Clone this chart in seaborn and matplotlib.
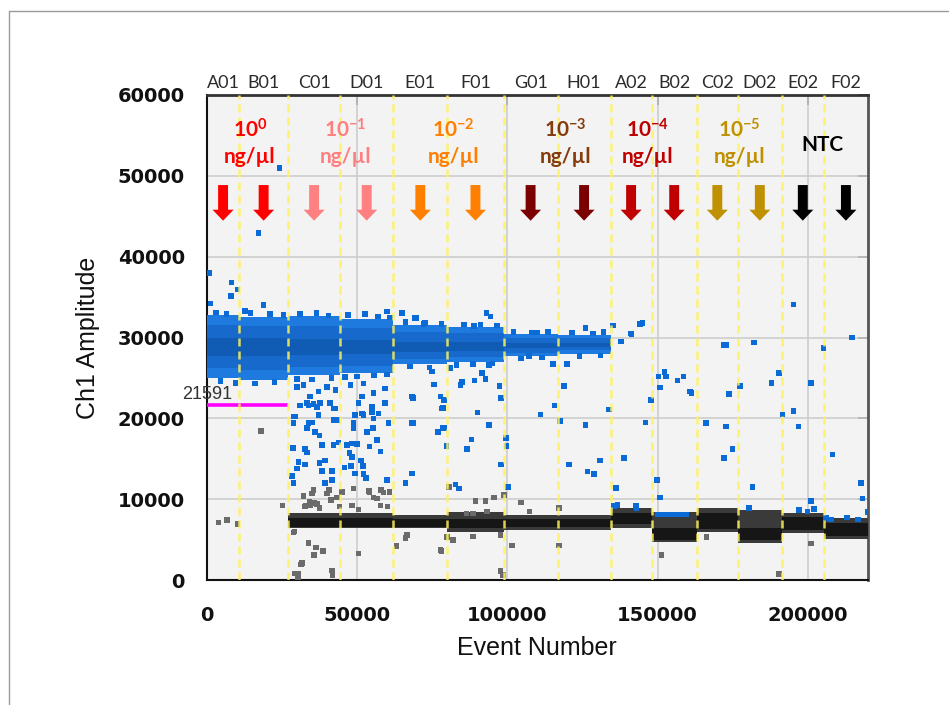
import numpy as np
import pandas as pd
import matplotlib
matplotlib.use("Agg")
import matplotlib.pyplot as plt
import matplotlib.transforms as mtransforms
from matplotlib.patches import FancyArrow
from matplotlib.lines import Line2D
import seaborn as sns

# ---- wells and their event ranges -------------------------------------------
wells = ["A01", "B01", "C01", "D01", "E01", "F01", "G01", "H01",
         "A02", "B02", "C02", "D02", "E02", "F02"]
well_edges = [0, 10700, 27000, 44300, 62000, 80000, 98700, 116700,
              134300, 148000, 163000, 176700, 191300, 205300, 220000]

threshold = 21591
threshold_end = 27000

# positive-droplet cluster (Ch1 amplitude envelope) for wells A01..H01
pos_outer_hi = [32800, 32500, 32600, 32300, 31500, 31300, 30400, 30300]
pos_outer_lo = [25000, 24800, 25300, 25600, 26700, 27000, 27700, 28000]
pos_mid_hi = [31600, 31400, 31400, 31200, 30700, 30600, 30000, 29900]
pos_mid_lo = [26200, 26000, 26300, 26500, 27300, 27600, 28100, 28400]
pos_core_hi = [29900, 29900, 29800, 29700, 29500, 29500, 29300, 29300]
pos_core_lo = [27700, 27700, 27800, 27900, 28200, 28300, 28700, 28800]

# negative-droplet cluster envelope for wells C01..F02
neg_outer_hi = [8300, 8300, 8000, 8400, 8000, 8000, 8900, 8400, 8900, 8650, 8300, 7650]
neg_outer_lo = [6400, 6400, 6400, 6000, 6200, 6200, 6400, 4700, 5900, 4600, 5800, 5100]
neg_core_hi = [7700, 7700, 7600, 7600, 7500, 7500, 8300, 6400, 8300, 6400, 7800, 7000]
neg_core_lo = [6600, 6600, 6600, 6400, 6500, 6500, 6900, 5000, 6300, 5000, 6200, 5400]

# small positive cluster sitting on the B02 negative band
b02_pos_range = [149000, 160500]
b02_pos_amp = [7800, 8400]

# scattered positive droplets
blue_event = [770, 8200, 8000, 10100, 1200, 18800, 12700, 59900, 64900, 69300, 24100, 17100,
              29900, 32100, 34300, 37100, 39900, 42700, 47700, 52100, 55400, 59300, 31000, 33200,
              36600, 42100, 51600, 54900, 59300, 52100, 68200, 68800, 60400, 29300, 33800, 43200,
              48800, 55400, 33800, 35400, 37700, 41000, 42700, 50400, 28800, 28800, 34900, 33200,
              37100, 42100, 49300, 51600, 54900, 57100, 68200, 78200, 78800, 76800, 36000, 37400,
              48800, 53200, 55200, 56600, 57700, 28600, 32700, 33200, 38200, 42100, 43800, 46600,
              48200, 49900, 54100, 47400, 48200, 30400, 29900, 32700, 37400, 39300, 38200, 41600,
              45800, 48000, 51300, 51900, 49300, 52100, 53000, 28200, 28800, 39300, 41600, 59900,
              66000, 68200, 82700, 69700, 93000, 94300, 88800, 72100, 109900, 126000, 131900, 135200,
              137700, 141000, 74900, 81000, 93800, 91600, 92700, 107100, 115200, 119900, 75500, 84300,
              84900, 89100, 97400, 118800, 68600, 77700, 78800, 97900, 78500, 90100, 115700, 111000,
              133800, 117400, 126000, 93800, 78600, 88000, 86600, 79700, 99600, 99700, 97900, 100100,
              83800, 120500, 126600, 128800, 130800, 136200, 150800, 156600, 160800, 161200, 173800,
              177400, 187900, 201000, 147700, 146000, 166000, 172700, 195200, 196800, 191600, 138800,
              149700, 150800, 172100, 174900, 208200, 181600, 201000, 217700, 218200, 219900, 135400,
              136600, 142700, 143000, 197100, 199900, 202100, 180400, 206000, 207700, 213000, 216600,
              195200, 214600, 141300, 144100, 145000, 171900, 172800, 182100, 205200, 150200, 152300,
              152800, 158600, 190400,
              # droplets on the ragged edge of the positive cluster
              3000, 6500, 14500, 21000, 25500, 31000, 36500, 40500, 47000, 52500, 57000, 61000,
              4500, 9500, 16000, 22500, 30000, 35000, 41500, 46000, 50000, 55500, 60000,
              66000, 72500, 78000, 85500, 91000, 96500, 67500, 74000, 83000, 88500, 95000,
              102000, 108000, 113500, 121500, 128500, 104500, 111500, 124000, 131000]
blue_amp = [38000, 36800, 35100, 35950, 34200, 34000, 33300, 33200, 33000, 32400, 51000, 42900,
            23900, 24100, 22700, 23300, 23900, 23500, 24100, 24300, 23100, 23700, 21600, 21900,
            21400, 21200, 22700, 21400, 21900, 20400, 22700, 19400, 19400, 20200, 19400, 19800,
            19400, 20000, 21600, 21800, 21900, 21900, 21200, 21900, 20200, 19400, 19500, 18800,
            20400, 19800, 20400, 20600, 20800, 20600, 19400, 21200, 18800, 18300, 18300, 17900,
            18800, 18300, 18800, 17300, 15900, 16300, 16200, 15800, 16700, 16700, 17000, 16700,
            16900, 16800, 16500, 15700, 15200, 14600, 13800, 14300, 14500, 14800, 13500, 13500,
            13900, 14100, 14800, 14100, 13200, 13100, 12600, 12900, 12000, 12000, 12400, 12400,
            12000, 13200, 11800, 32400, 33000, 32600, 31400, 31700, 30600, 31200, 30700, 31500,
            29500, 30500, 25800, 26200, 26600, 25600, 24900, 27700, 26700, 26700, 24200, 24100,
            24500, 24700, 24000, 24000, 22500, 22700, 22300, 22500, 21300, 20700, 21600, 20500,
            21100, 19700, 19200, 19200, 18800, 17400, 16200, 16600, 17600, 16600, 14300, 11500,
            11300, 14300, 13400, 13100, 14800, 11400, 23800, 24700, 23300, 23100, 23000,
            24000, 24400, 24400, 22300, 19500, 19400, 19000, 20900, 19000, 20500, 15100,
            12400, 10200, 15100, 16200, 15500, 11500, 9800, 12000, 10100, 8400, 9150,
            9300, 9150, 8900, 8650, 8450, 8750, 8900, 7650, 7500, 7750, 7500,
            34100, 30000, 30400, 31700, 31800, 29100, 29100, 29400, 28700, 25200, 25700,
            25200, 25200, 25600,
            33100, 32900, 33000, 32900, 32800, 32900, 33000, 32700, 32800, 32900, 32600, 32500,
            24600, 24400, 24300, 24500, 24900, 24800, 25000, 25100, 25200, 25300, 25400,
            31900, 31800, 31700, 31600, 31600, 31500, 26400, 26300, 26600, 26700, 26800,
            30700, 30600, 30700, 30600, 30500, 27400, 27500, 27700, 27800]

# scattered negative / intermediate droplets
gray_event = [17900, 3800, 6600, 10100, 25200, 32100, 34900, 35700, 36600, 32700, 34300, 39900,
              40400, 43200, 44100, 48400, 48800, 54000, 29100, 33800, 36300, 38600, 35700, 31600,
              29300, 30400, 41600, 50400, 35400, 34100, 33000, 37400, 41200, 40800, 44900, 48200,
              50400, 54100, 55400, 56600, 57900, 58800, 60800, 60100, 57700, 28800, 66600, 66000,
              63000, 77700, 81900, 80500, 89300, 92700, 95500, 98800, 104600, 86300, 88600, 93200,
              107400, 117100, 79900, 81900, 88600, 97700, 101600, 117100, 78000, 97700, 166300,
              151200, 201000, 190400, 31300, 30200, 41800, 98600]
gray_amp = [18400, 7100, 7400, 6900, 9200, 10400, 10700, 9500, 9400, 9100, 9200, 10700,
            11200, 10200, 9100, 9200, 11300, 11000, 6000, 4600, 4000, 3600, 3100, 2100,
            830, 830, 1150, 3300, 11100, 9700, 9200, 8900, 9900, 11100, 10900, 9200,
            8700, 10900, 10200, 10100, 11100, 10800, 10900, 9100, 9200, 5900, 5600, 5200,
            4200, 3700, 5000, 11500, 9800, 9800, 10200, 10500, 9600, 8250, 8250, 8500,
            8450, 8900, 5350, 4950, 5400, 5600, 4250, 4250, 3600, 1100, 5350,
            3100, 4500, 740, 1900, 300, 640, 640]

# sample annotations
conc_text = [r"$\mathbf{10^{0}}$", r"$\mathbf{10^{-1}}$", r"$\mathbf{10^{-2}}$",
             r"$\mathbf{10^{-3}}$", r"$\mathbf{10^{-4}}$", r"$\mathbf{10^{-5}}$"]
conc_x = [14300, 46000, 82000, 119300, 146700, 177300]
conc_colors = ["#ff0000", "#ff7f7f", "#ff7f00", "#843c0c", "#c00000", "#bf9000"]
ntc_x = 205000
arrow_colors = ["#ff0000", "#ff0000", "#ff8080", "#ff8080", "#ff8000", "#ff8000",
                "#7b0000", "#7b0000", "#c00000", "#c00000", "#bf9000", "#bf9000",
                "#000000", "#000000"]

x_ticks = [0, 50000, 100000, 150000, 200000]
y_ticks = [0, 10000, 20000, 30000, 40000, 50000, 60000]

# ---- style --------------------------------------------------------------------
sns.set_style("white")
plt.rcParams["font.family"] = ["DejaVu Sans"]
plt.rcParams["mathtext.fontset"] = "custom"
plt.rcParams["mathtext.rm"] = "Lato"
plt.rcParams["mathtext.bf"] = "Lato:bold"

fig = plt.figure(figsize=(9.49, 7.05), dpi=100)
ax = fig.add_axes([207 / 949, 125 / 705, 661 / 949, 485 / 705])
ax.set_facecolor("#f3f3f3")
ax.set_xlim(0, 220000)
ax.set_ylim(0, 60000)
ax.set_axisbelow(True)
ax.grid(True, color="#cdcdcd", lw=1.2)

centers = [(well_edges[i] + well_edges[i + 1]) / 2 for i in range(len(wells))]

# positive cluster bands
for i in range(len(pos_outer_hi)):
    xs = [well_edges[i], well_edges[i + 1]]
    ax.fill_between(xs, pos_outer_lo[i], pos_outer_hi[i], color="#1f7ae0", lw=0, zorder=3)
    ax.fill_between(xs, pos_mid_lo[i], pos_mid_hi[i], color="#1769cc", lw=0, zorder=3)
    ax.fill_between(xs, pos_core_lo[i], pos_core_hi[i], color="#105bb4", lw=0, zorder=3)

# negative cluster bands
for j in range(len(neg_outer_hi)):
    i = j + 2
    xs = [well_edges[i], well_edges[i + 1]]
    ax.fill_between(xs, neg_outer_lo[j], neg_outer_hi[j], color="#3a3a3a", lw=0, zorder=3)
    ax.fill_between(xs, neg_core_lo[j], neg_core_hi[j], color="#161616", lw=0, zorder=3)

ax.fill_between(b02_pos_range, b02_pos_amp[0], b02_pos_amp[1], color="#0a6ad6", lw=0, zorder=3)

drops = pd.DataFrame({
    "event": blue_event + gray_event,
    "amp": blue_amp + gray_amp,
    "kind": ["pos"] * len(blue_event) + ["neg"] * len(gray_event),
})
sns.scatterplot(data=drops, x="event", y="amp", hue="kind",
                palette={"pos": "#0a6ad6", "neg": "#6b6b6b"},
                marker="s", s=16, linewidth=0, legend=False, ax=ax, zorder=4)

# threshold
ax.plot([0, threshold_end], [threshold, threshold], color="#ff00ff", lw=2.6, zorder=5,
        solid_capstyle="butt")
ax.text(-8300, threshold + 250, f"{threshold}", ha="left", va="bottom",
        fontsize=13, family="Liberation Sans", color="#333333", zorder=6, clip_on=False)

# well boundaries
for e in well_edges[1:-1]:
    ax.axvline(e, color="#fff25a", alpha=0.85, lw=1.8, ls=(0, (3.2, 2.0)), zorder=6)

# arrows and labels above the data
for c, col in zip(centers, arrow_colors):
    ax.add_patch(FancyArrow(c, 48860, 0, -4410, width=3300, head_width=7000,
                            head_length=1360, length_includes_head=True,
                            color=col, lw=0, zorder=7))

trans = mtransforms.blended_transform_factory(ax.transData, ax.transAxes)
for c, w in zip(centers, wells):
    ax.text(c, (580 - 83) / 485, w, transform=trans, ha="center", va="center",
            fontsize=13, family="Lato", color="#2b2b2b", clip_on=False)

for x, t, col in zip(conc_x, conc_text, conc_colors):
    ax.text(x, (580 - 130) / 485, t, transform=trans, ha="center", va="center",
            fontsize=15, color=col, zorder=8)
    ax.text(x, (580 - 157) / 485, "ng/µl", transform=trans, ha="center", va="center",
            fontsize=15, family="Lato", fontweight="bold", color=col, zorder=8)
ax.text(ntc_x, (580 - 145) / 485, "NTC", transform=trans, ha="center", va="center",
        fontsize=15, family="Lato", fontweight="bold", color="#000000", zorder=8)

# axes, ticks and labels
ax.set_xticks(x_ticks)
ax.set_yticks(y_ticks)
ax.set_xticklabels([str(v) for v in x_ticks])
ax.set_yticklabels([str(v) for v in y_ticks])
ax.tick_params(direction="inout", length=12, width=1.3, color="#111111",
               labelsize=14, top=False, right=False)
ax.tick_params(axis="y", pad=10)
ax.tick_params(axis="x", pad=13)
for lab in ax.get_xticklabels() + ax.get_yticklabels():
    lab.set_fontweight("bold")
    lab.set_color("#111111")

for side in ["left", "bottom"]:
    ax.spines[side].set_color("#111111")
    ax.spines[side].set_linewidth(1.5)
ax.spines["top"].set_color("#333333")
ax.spines["top"].set_linewidth(2)
ax.spines["right"].set_color("#555555")
ax.spines["right"].set_linewidth(2)

secx = ax.secondary_xaxis("top")
secx.set_xticks(x_ticks)
secx.tick_params(direction="in", length=7, width=1.3, labeltop=False, color="#222222")
secy = ax.secondary_yaxis("right")
secy.set_yticks(y_ticks)
secy.tick_params(direction="in", length=7, width=1.3, labelright=False, color="#444444")
for s in secx.spines.values():
    s.set_visible(False)
for s in secy.spines.values():
    s.set_visible(False)

ax.set_xlabel("Event Number", fontsize=18, family="Liberation Sans", color="#111111")
ax.set_ylabel("Ch1 Amplitude", fontsize=18, family="Liberation Sans", color="#111111")
ax.xaxis.set_label_coords(0.4992, (580 - 648) / 485)
ax.xaxis.label.set_verticalalignment("center")
ax.yaxis.set_label_coords((88 - 207) / 661, 0.5)
ax.yaxis.label.set_verticalalignment("center")

# slide frame
fig.add_artist(Line2D([9 / 949, 1], [1 - 11 / 705, 1 - 11 / 705],
                      transform=fig.transFigure, color="#9a9a9a", lw=1))
fig.add_artist(Line2D([9 / 949, 9 / 949], [0, 1 - 11 / 705],
                      transform=fig.transFigure, color="#9a9a9a", lw=1))

fig.savefig("out.png", dpi=100)
